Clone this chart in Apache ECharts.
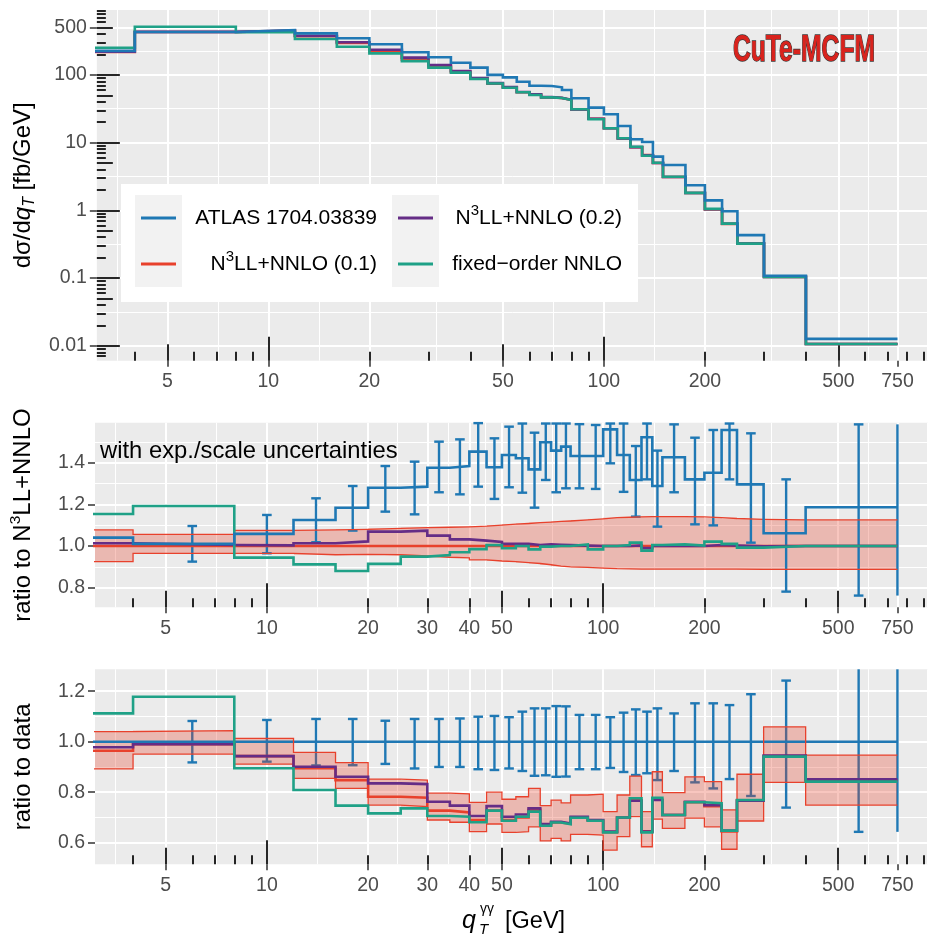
<!DOCTYPE html>
<html><head><meta charset="utf-8">
<script src="https://cdn.jsdelivr.net/npm/echarts@6/dist/echarts.min.js"></script>
<style>html,body{margin:0;padding:0;background:#fff}#c{width:928px;height:936px}</style>
</head><body><div id="c"></div><script>
// ---------------- DATA ----------------
const binEdges = [0,4,8,12,16,20,25,30,35,40,45,50,55,60,65,70,75,80,90,100,110,120,130,140,150,175,200,225,250,300,400,750];
const errCenters = [2,6,10,14,18,22.5,27.5,32.5,37.5,42.5,47.5,52.5,57.5,62.5,67.5,72.5,77.5,85,95,105,115,125,135,145,162.5,187.5,212.5,237.5,275,350,575,750];
const errCaps = [1,1,1,1,1,1,1,1,1,1,1,1,1,1,1,1,1,1,1,1,1,1,1,1,1,1,1,1,1,1,1,0];

// top panel: dsigma/dqT [fb/GeV]
const atlasTop  = [226,430,460,411,347,283,216,182,151,128,100,92,79.3,69.3,68.5,65.6,59.8,45.1,32.8,26.2,17.6,11.2,10.2,6.2,4.67,2.35,1.40,0.97,0.43,0.108,0.0126];
const n3ll01Top = [218,430,450,373,296,222,168,133,111,88,74,65.5,55.3,51.3,46.6,45.5,42.6,30.8,22.5,16.3,11.55,8.55,6.55,5.0,3.1,1.8,1.03,0.63,0.325,0.104,0.0106];
const n3ll02Top = [221,432,451,378,303,235,180,140,114,90,75.5,66,55.8,51.5,47,45.8,42.8,30.9,22.5,16.3,11.55,8.58,6.48,5.0,3.1,1.8,1.035,0.632,0.324,0.104,0.0106];
const fixedTop  = [252,515,426,339,261,208,160,128,108,87,74.5,64.7,55.3,50.5,46.5,45.5,42.6,31.1,22.1,16.3,11.6,8.7,6.4,5.04,3.13,1.81,1.05,0.635,0.322,0.104,0.0106];

// middle panel: ratio to N3LL+NNLO (0.1)
const atlasMid  = [1.040,1.010,1.058,1.125,1.184,1.280,1.285,1.376,1.384,1.453,1.378,1.437,1.421,1.368,1.498,1.458,1.477,1.432,1.432,1.560,1.437,1.317,1.522,1.288,1.426,1.320,1.352,1.557,1.296,1.061,1.186];
const n3ll01Mid = [1,1,1,1,1,1,1,1,1,1,1,1,1,1,1,1,1,1,1,1,1,1,1,1,1,1,1,1,1,1,1];
const n3ll02Mid = [1.013,1.005,1.003,1.013,1.022,1.069,1.074,1.050,1.032,1.026,1.020,1.010,1.010,1.005,1.008,1.006,1.004,1.002,1.000,1.000,1.000,1.003,0.990,1.000,1.000,1.000,1.005,1.002,0.998,1.000,1.000];
const fixedMid  = [1.154,1.192,0.944,0.912,0.880,0.914,0.949,0.957,0.970,0.985,1.004,0.989,1.000,0.984,0.997,1.000,1.000,1.008,0.984,1.000,1.005,1.016,0.978,1.005,1.008,1.002,1.021,1.010,0.992,1.000,1.000];
const bandMidHi = [1.077,1.056,1.075,1.077,1.080,1.085,1.088,1.090,1.092,1.095,1.100,1.105,1.108,1.112,1.115,1.118,1.120,1.125,1.130,1.136,1.138,1.140,1.141,1.141,1.141,1.140,1.136,1.132,1.128,1.125,1.125];
const bandMidLo = [0.925,0.965,0.965,0.958,0.960,0.958,0.952,0.946,0.943,0.933,0.928,0.925,0.920,0.916,0.910,0.903,0.900,0.897,0.894,0.891,0.890,0.889,0.889,0.889,0.889,0.889,0.889,0.889,0.888,0.888,0.888];
const errMidHi  = [1.12,1.096,1.149,1.229,1.288,1.384,1.405,1.501,1.512,1.590,1.517,1.573,1.588,1.544,1.588,1.588,1.588,1.585,1.581,1.588,1.588,1.480,1.588,1.458,1.584,1.520,1.557,1.588,1.541,1.320,1.584,1.584];
const errMidLo  = [0.96,0.925,0.965,1.018,1.074,1.165,1.152,1.258,1.248,1.285,1.226,1.282,1.256,1.184,1.317,1.258,1.277,1.277,1.274,1.397,1.260,1.141,1.320,1.093,1.258,1.104,1.099,1.320,1.016,0.781,0.762,0.762];

// bottom panel: ratio to data
const atlasBot  = [1,1,1,1,1,1,1,1,1,1,1,1,1,1,1,1,1,1,1,1,1,1,1,1,1,1,1,1,1,1,1];
const n3ll01Bot = [0.964,0.990,0.943,0.895,0.848,0.782,0.778,0.727,0.720,0.690,0.727,0.690,0.700,0.730,0.667,0.680,0.675,0.700,0.688,0.642,0.700,0.768,0.645,0.770,0.710,0.760,0.745,0.645,0.768,0.943,0.845];
const n3ll02Bot = [0.978,0.990,0.943,0.901,0.861,0.835,0.832,0.762,0.747,0.706,0.745,0.703,0.712,0.736,0.674,0.683,0.676,0.703,0.690,0.644,0.700,0.766,0.644,0.769,0.710,0.762,0.749,0.648,0.766,0.945,0.851];
const fixedBot  = [1.112,1.178,0.895,0.809,0.747,0.716,0.736,0.706,0.703,0.681,0.727,0.687,0.703,0.723,0.667,0.680,0.673,0.699,0.687,0.641,0.700,0.776,0.641,0.778,0.710,0.760,0.756,0.648,0.769,0.941,0.842];
const bandBotHi = [1.040,1.044,1.013,0.958,0.917,0.852,0.848,0.796,0.793,0.760,0.800,0.772,0.782,0.815,0.747,0.769,0.758,0.789,0.792,0.723,0.789,0.864,0.723,0.881,0.798,0.861,0.842,0.730,0.871,1.059,0.947];
const bandBotLo = [0.892,0.951,0.911,0.855,0.815,0.749,0.743,0.690,0.681,0.644,0.674,0.641,0.644,0.663,0.607,0.617,0.607,0.633,0.630,0.571,0.624,0.703,0.584,0.693,0.657,0.697,0.663,0.574,0.686,0.839,0.749];
const errBotHi  = [1.08,1.082,1.086,1.090,1.090,1.083,1.090,1.090,1.092,1.099,1.102,1.097,1.119,1.132,1.132,1.141,1.140,1.106,1.106,1.097,1.115,1.128,1.119,1.132,1.112,1.152,1.152,1.145,1.188,1.242,1.40,1.40];
const errBotLo  = [0.92,0.918,0.921,0.906,0.907,0.912,0.894,0.900,0.900,0.891,0.888,0.894,0.884,0.865,0.867,0.861,0.862,0.891,0.891,0.896,0.880,0.868,0.875,0.848,0.884,0.839,0.815,0.852,0.785,0.739,0.643,0.643];

// tick labels
const xLabelsTop   = [5,10,20,50,100,200,500,750];
const xLabelsRatio = [5,10,20,30,40,50,100,200,500,750];
const yLabelsTop   = [0.01,0.1,1,10,100,500];
const yLabelsMid   = [0.8,1.0,1.2,1.4];
const yLabelsBot   = [0.6,0.8,1.0,1.2];

const seriesNames = ['ATLAS 1704.03839','N\u00b3LL+NNLO (0.1)','N\u00b3LL+NNLO (0.2)','fixed\u2212order NNLO'];

// ---------------- STYLE ----------------
const FONT = '"Liberation Sans", Arial, Helvetica, sans-serif';
const COL = { blue:'#1f78b4', red:'#e8412c', purple:'#652d86', green:'#1fa187' };
const BAND_FILL = 'rgba(232,65,44,0.30)';
const LW = 2.6;
const lx = q => Math.log10(q > 0 ? q : 1);
const XMIN = 0.48889, XMAX = 2.96593;
const YR = [[-2.2216, 2.9586],[0.7057,1.5920],[0.5145,1.2867]];
const grids = [
  {left:92, top:10, width:836, height:350.7},
  {left:92, top:422.7, width:836, height:184.6},
  {left:92, top:669.3, width:836, height:195}
].map(g => Object.assign(g, {show:true, backgroundColor:'#EBEBEB', borderWidth:0, containLabel:false}));

function minorsOf(majors, f, min, max) {
  const b = majors.map(f), n = b.length;
  const ext = [b[0]-(b[1]-b[0])].concat(b, [b[n-1]+(b[n-1]-b[n-2])]);
  const out = [];
  for (let i=0;i<ext.length-1;i++){ const m=(ext[i]+ext[i+1])/2; if (m>=min-1e-9 && m<=max+1e-9) out.push(m); }
  return out;
}
function logTicks(min, max) {
  const r = {long:[], mid:[], short:[]};
  for (let k=-4;k<=4;k++) for (let m=1;m<=9;m++) {
    const l = Math.log10(m*Math.pow(10,k));
    if (l < min-1e-9 || l > max+1e-9) continue;
    (m===1 ? r.long : m===5 ? r.mid : r.short).push(l);
  }
  return r;
}
const fmtLog = labels => v => { for (const L of labels) if (Math.abs(Math.log10(L)-v) < 1e-6) return String(L); return ''; };
const fmtLin = v => v.toFixed(1);

const xAxes = [], yAxes = [];
const add = (arr, c) => { arr.push(c); return arr.length-1; };
const base = (g, min, max, pos) => ({type:'value', gridIndex:g, min, max, position:pos,
  axisLine:{show:false, onZero:false}, axisTick:{show:false}, axisLabel:{show:false}, splitLine:{show:false}});

function majorAxis(g, min, max, pos, vals, fmt, tickLen, margin) {
  return Object.assign(base(g,min,max,pos), {
    axisTick:{show:true, customValues:vals, length:tickLen, lineStyle:{color:'#333', width:1.5}},
    axisLabel:{show:true, customValues:vals, formatter:fmt, color:'#4d4d4d', fontSize:19.5, fontFamily:FONT, margin},
    splitLine:{show:true, lineStyle:{color:'#fff', width:2}}
  });
}
function minorAxis(g, min, max, pos, vals) {
  return Object.assign(base(g,min,max,pos), {
    axisTick:{show:false, customValues:vals},
    splitLine:{show:true, lineStyle:{color:'#fff', width:1}}
  });
}
function tickAxis(g, min, max, pos, vals, len) {
  return Object.assign(base(g,min,max,pos), {
    axisTick:{show:true, inside:true, customValues:vals, length:len, lineStyle:{color:'#000', width:1.7}}
  });
}

const nameStyle = {color:'#000', fontSize:24, fontFamily:FONT, lineHeight:30,
  rich:{
    i:{fontStyle:'italic', fontSize:24, fontFamily:FONT, lineHeight:30, color:'#000'},
    s:{fontStyle:'italic', fontSize:16, fontFamily:FONT, lineHeight:16, verticalAlign:'bottom', color:'#000'},
    p:{fontSize:15.5, fontFamily:FONT, lineHeight:15, verticalAlign:'top', color:'#000'}
  }};

const panels = [];
const xlt = logTicks(XMIN, XMAX);
for (let g=0; g<3; g++) {
  const labels = g===0 ? xLabelsTop : xLabelsRatio;
  const xi = add(xAxes, majorAxis(g, XMIN, XMAX, 'bottom', labels.map(lx), fmtLog(labels), 6, 11));
  add(xAxes, minorAxis(g, XMIN, XMAX, 'bottom', minorsOf(labels, lx, XMIN, XMAX)));
  add(xAxes, tickAxis(g, XMIN, XMAX, 'bottom', xlt.long, 24));
  add(xAxes, tickAxis(g, XMIN, XMAX, 'bottom', xlt.mid, 16.5));
  add(xAxes, tickAxis(g, XMIN, XMAX, 'bottom', xlt.short, 9));
  let yi;
  const [ymin, ymax] = YR[g];
  if (g===0) {
    const ya = majorAxis(g, ymin, ymax, 'left', yLabelsTop.map(v=>Math.log10(v)), fmtLog(yLabelsTop), 7, 10);
    Object.assign(ya, {name:'d\u03c3/d{i|q}{s|T} [fb/GeV]', nameLocation:'middle', nameRotate:90, nameGap:57, nameTextStyle:nameStyle});
    yi = add(yAxes, ya);
    add(yAxes, minorAxis(g, ymin, ymax, 'left', minorsOf(yLabelsTop, v=>Math.log10(v), ymin, ymax)));
    const ylt = logTicks(ymin, ymax);
    add(yAxes, tickAxis(g, ymin, ymax, 'left', ylt.long, 23));
    add(yAxes, tickAxis(g, ymin, ymax, 'left', ylt.mid, 16));
    add(yAxes, tickAxis(g, ymin, ymax, 'left', ylt.short, 9));
  } else {
    const labs = g===1 ? yLabelsMid : yLabelsBot;
    const ya = majorAxis(g, ymin, ymax, 'left', labs, fmtLin, 7, 10);
    Object.assign(ya, {name: g===1 ? 'ratio to N{p|3}LL+NNLO' : 'ratio to data', nameLocation:'middle', nameRotate:90, nameGap:57, nameTextStyle:nameStyle});
    yi = add(yAxes, ya);
    add(yAxes, minorAxis(g, ymin, ymax, 'left', minorsOf(labs, v=>v, ymin, ymax)));
  }
  panels.push({xi, yi});
}

// ---------------- SERIES ----------------
function stepData(vals, tf) {
  return binEdges.map((e,i) => [lx(e), tf(vals[Math.min(i, vals.length-1)])]);
}
function stepLine(p, name, vals, color, width, tf) {
  return {type:'line', name, xAxisIndex:p.xi, yAxisIndex:p.yi, data:stepData(vals, tf||(v=>v)),
    step:'end', symbol:'none', showSymbol:false, clip:true, silent:true,
    lineStyle:{color, width, join:'miter', cap:'butt'}, itemStyle:{color}};
}
function bandRects(p, lo, hi) {
  const data = lo.map((l,i) => [lx(binEdges[i]), lx(binEdges[i+1]), l, hi[i]]);
  return {type:'custom', name:seriesNames[1], xAxisIndex:p.xi, yAxisIndex:p.yi, data, silent:true,
    encode:{x:[0,1], y:[2,3]},
    renderItem(params, api) {
      const cs = params.coordSys;
      const a = api.coord([api.value(0), api.value(3)]);
      const b = api.coord([api.value(1), api.value(2)]);
      const x0 = Math.max(Math.round(a[0]), cs.x), x1 = Math.min(Math.round(b[0]), cs.x+cs.width);
      if (x1 <= x0) return null;
      const y0 = Math.max(a[1], cs.y), y1 = Math.min(b[1], cs.y+cs.height);
      return {type:'rect', shape:{x:x0, y:y0, width:x1-x0, height:y1-y0}, style:{fill:BAND_FILL}};
    }};
}
function errorBars(p, lo, hi) {
  const data = errCenters.map((c,i) => [lx(c), lo[i], hi[i], errCaps[i]]);
  return {type:'custom', name:seriesNames[0], xAxisIndex:p.xi, yAxisIndex:p.yi, data, silent:true,
    encode:{x:0, y:[1,2]},
    renderItem(params, api) {
      const cs = params.coordSys;
      const pl = api.coord([api.value(0), api.value(1)]);
      const ph = api.coord([api.value(0), api.value(2)]);
      const x = pl[0];
      if (x < cs.x || x > cs.x + cs.width + 0.5) return null;
      const yt = Math.max(ph[1], cs.y), yb = Math.min(pl[1], cs.y+cs.height);
      const st = {stroke:COL.blue, lineWidth:2.4};
      const ch = [{type:'line', shape:{x1:x, y1:yt, x2:x, y2:yb}, style:st}];
      if (api.value(3)) {
        const w = 4.8;
        if (ph[1] >= cs.y) ch.push({type:'line', shape:{x1:x-w, y1:ph[1], x2:x+w, y2:ph[1]}, style:st});
        if (pl[1] <= cs.y+cs.height) ch.push({type:'line', shape:{x1:x-w, y1:pl[1], x2:x+w, y2:pl[1]}, style:st});
      }
      return {type:'group', children:ch};
    }};
}
const L10 = v => Math.log10(v);
const [P0, P1, P2] = panels;
const series = [
  // top
  stepLine(P0, seriesNames[1], n3ll01Top, COL.red, LW, L10),
  stepLine(P0, seriesNames[2], n3ll02Top, COL.purple, LW, L10),
  stepLine(P0, seriesNames[3], fixedTop, COL.green, LW, L10),
  stepLine(P0, seriesNames[0], atlasTop, COL.blue, LW, L10),
  // middle
  bandRects(P1, bandMidLo, bandMidHi),
  stepLine(P1, seriesNames[1], bandMidHi, COL.red, 1.3),
  stepLine(P1, seriesNames[1], bandMidLo, COL.red, 1.3),
  stepLine(P1, seriesNames[1], n3ll01Mid, COL.red, LW),
  stepLine(P1, seriesNames[2], n3ll02Mid, COL.purple, LW),
  stepLine(P1, seriesNames[3], fixedMid, COL.green, LW),
  stepLine(P1, seriesNames[0], atlasMid, COL.blue, LW),
  errorBars(P1, errMidLo, errMidHi),
  // bottom
  stepLine(P2, seriesNames[0], atlasBot, COL.blue, LW),
  errorBars(P2, errBotLo, errBotHi),
  bandRects(P2, bandBotLo, bandBotHi),
  stepLine(P2, seriesNames[1], bandBotHi, COL.red, 1.3),
  stepLine(P2, seriesNames[1], bandBotLo, COL.red, 1.3),
  stepLine(P2, seriesNames[1], n3ll01Bot, COL.red, LW),
  stepLine(P2, seriesNames[2], n3ll02Bot, COL.purple, LW),
  stepLine(P2, seriesNames[3], fixedBot, COL.green, LW)
];

// ---------------- GRAPHIC (legend, logo, texts) ----------------
const legTxt = (txt, x, y) => ({type:'text', z:101, style:{text:txt, x, y, align:'right', verticalAlign:'middle',
  fontSize:21, fontFamily:FONT, fill:'#000', lineHeight:30,
  rich:{p:{fontSize:15, fontFamily:FONT, lineHeight:15, verticalAlign:'top', fill:'#000'}}}});
const legLine = (x, y, c) => ({type:'line', z:101, shape:{x1:x, y1:y, x2:x+35, y2:y}, style:{stroke:c, lineWidth:3}});
const graphic = [
  {type:'rect', z:100, shape:{x:121, y:184, width:517, height:118}, style:{fill:'#fff'}},
  {type:'rect', z:100, shape:{x:135, y:195, width:47, height:92}, style:{fill:'#f2f2f2'}},
  {type:'rect', z:100, shape:{x:392, y:195, width:47, height:92}, style:{fill:'#f2f2f2'}},
  legLine(141, 218, COL.blue), legLine(141, 264, COL.red),
  legLine(398, 218, COL.purple), legLine(398, 264, COL.green),
  legTxt('ATLAS 1704.03839', 377, 218),
  legTxt('N{p|3}LL+NNLO (0.1)', 377, 264),
  legTxt('N{p|3}LL+NNLO (0.2)', 622, 218),
  legTxt('fixed\u2212order NNLO', 622, 264),
  {type:'text', z:101, x:804, y:50.5, scaleX:0.667, style:{text:'CuTe-MCFM', align:'center', verticalAlign:'middle',
    fontSize:37, fontWeight:'bold', fontFamily:FONT, fill:'#d9231d', stroke:'#3a3a3a', lineWidth:1.4}},
  {type:'text', z:101, style:{text:'with exp./scale uncertainties', x:100, y:451, align:'left', verticalAlign:'middle',
    fontSize:23.8, fontFamily:FONT, fill:'#000'}},
  {type:'text', z:101, style:{text:'q', x:462, y:921, align:'left', verticalAlign:'middle', fontSize:25, fontStyle:'italic', fontFamily:FONT, fill:'#000'}},
  {type:'text', z:101, style:{text:'T', x:479, y:930, align:'left', verticalAlign:'middle', fontSize:15, fontStyle:'italic', fontFamily:FONT, fill:'#000'}},
  {type:'text', z:101, style:{text:'\u03b3\u03b3', x:480, y:909, align:'left', verticalAlign:'middle', fontSize:14, fontFamily:FONT, fill:'#000'}},
  {type:'text', z:101, style:{text:'[GeV]', x:505, y:922, align:'left', verticalAlign:'middle', fontSize:23.5, fontFamily:FONT, fill:'#000'}}
];

const chart = echarts.init(document.getElementById('c'), null, {renderer:'canvas'});
chart.setOption({animation:false, backgroundColor:'#fff', grid:grids, xAxis:xAxes, yAxis:yAxes, series, graphic});
</script></body></html>
